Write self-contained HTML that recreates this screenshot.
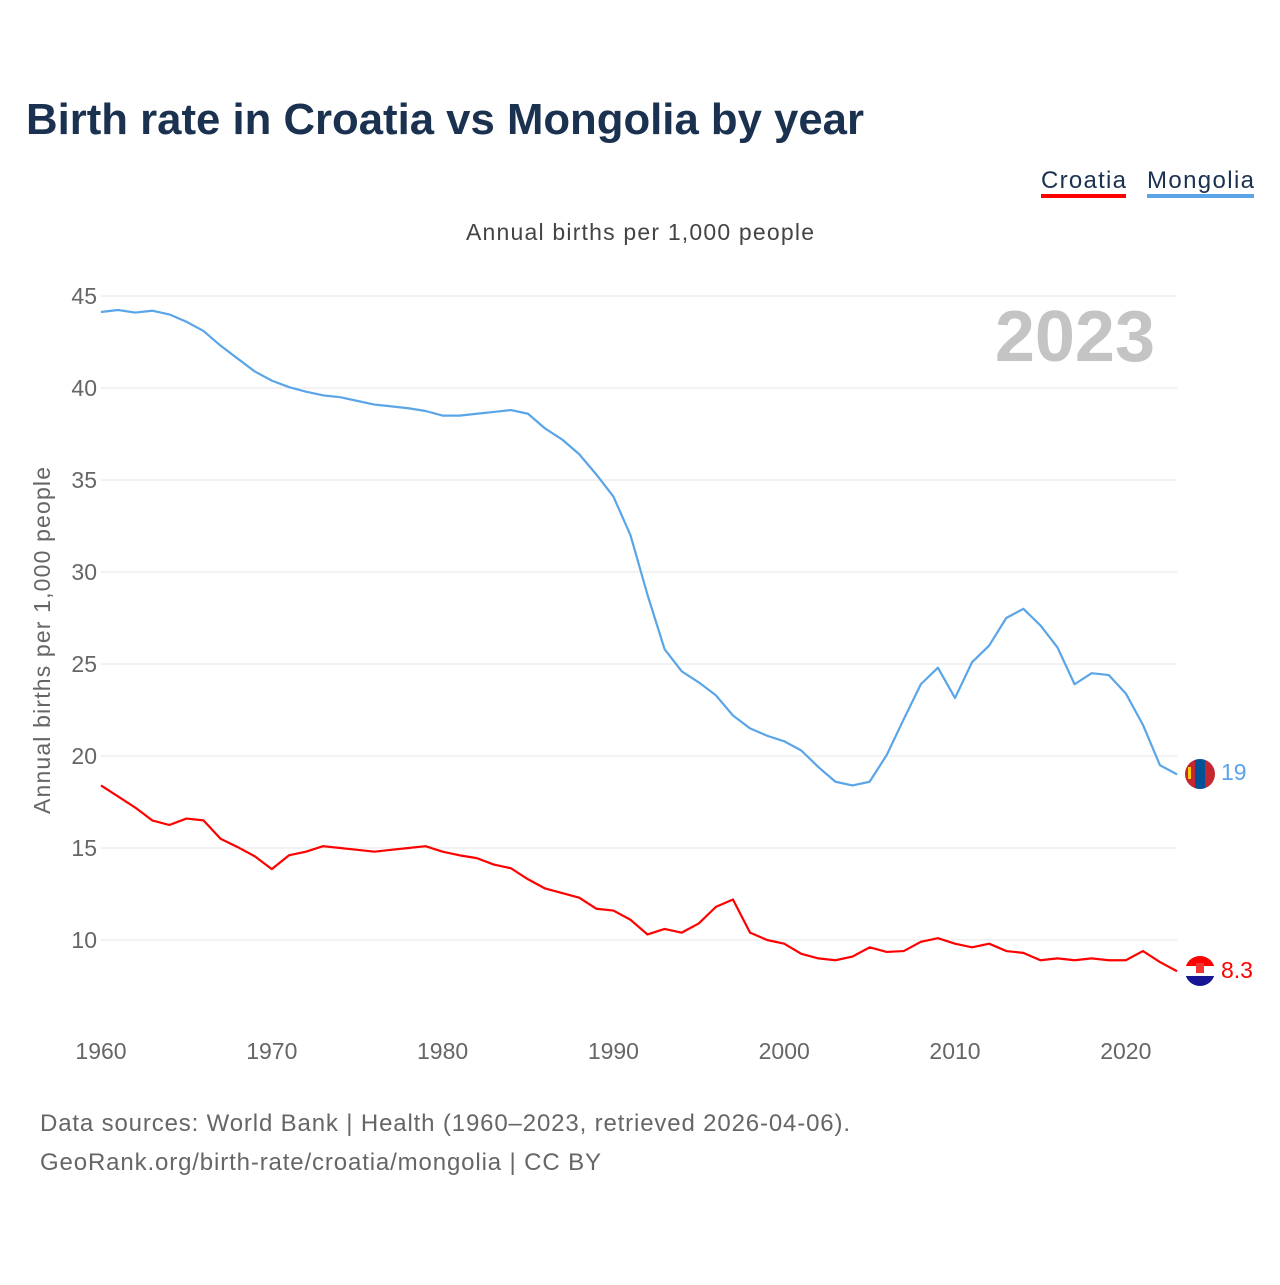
<!DOCTYPE html>
<html><head><meta charset="utf-8"><style>
body{margin:0;background:#fff;font-family:"Liberation Sans",sans-serif;}
svg text{font-family:"Liberation Sans",sans-serif;}
</style></head><body>
<svg width="1280" height="1280" viewBox="0 0 1280 1280">
<text x="26" y="134" font-size="44" font-weight="bold" fill="#1a3150" textLength="838" lengthAdjust="spacingAndGlyphs">Birth rate in Croatia vs Mongolia by year</text>
<g><text x="1041" y="188" font-size="24" fill="#1a3150" textLength="85">Croatia</text><rect x="1041" y="194" width="85" height="4" fill="#ff0000"/></g>
<g><text x="1147" y="188" font-size="24" fill="#1a3150" textLength="107">Mongolia</text><rect x="1147" y="194" width="107" height="4" fill="#5aa5e8"/></g>
<text x="466" y="240" font-size="23" fill="#444" textLength="348">Annual births per 1,000 people</text>
<text transform="translate(50,814) rotate(-90)" font-size="23" fill="#666" textLength="347">Annual births per 1,000 people</text>
<text x="1155" y="361" font-size="72" font-weight="bold" fill="#c4c4c4" text-anchor="end">2023</text>
<g id="grid"></g><g id="yt"></g><g id="xt"></g><g id="lines"></g>
<g><clipPath id="cm"><circle cx="1200" cy="774" r="15"/></clipPath><g clip-path="url(#cm)"><rect x="1185" y="759" width="10" height="30" fill="#c4272f"/><rect x="1195" y="759" width="10" height="30" fill="#015197"/><rect x="1205" y="759" width="10" height="30" fill="#c4272f"/><rect x="1188" y="767" width="3" height="12" fill="#f9cf02"/></g></g>
<g><clipPath id="cc"><circle cx="1200" cy="971" r="15"/></clipPath><g clip-path="url(#cc)"><rect x="1185" y="956" width="30" height="10" fill="#ff0000"/><rect x="1185" y="966" width="30" height="10" fill="#fff"/><rect x="1185" y="976" width="30" height="10" fill="#171796"/><rect x="1196" y="963" width="8" height="10" fill="#e33"/></g></g>
<text x="1221" y="780" font-size="23" fill="#5aa5e8">19</text>
<text x="1221" y="978" font-size="23" fill="#ff0000">8.3</text>
<text x="40" y="1131" font-size="24" fill="#666" textLength="810">Data sources: World Bank | Health (1960–2023, retrieved 2026-04-06).</text>
<text x="40" y="1170" font-size="24" fill="#666" textLength="561">GeoRank.org/birth-rate/croatia/mongolia | CC BY</text>
</svg>
<script>
const years=[];for(let y=1960;y<=2023;y++)years.push(y);
const mongolia=[44.13,44.24,44.1,44.2,44.0,43.6,43.1,42.3,41.6,40.9,40.4,40.05,39.8,39.6,39.5,39.3,39.1,39.0,38.9,38.75,38.5,38.5,38.6,38.7,38.8,38.6,37.8,37.2,36.4,35.3,34.1,32.0,28.75,25.8,24.6,24.0,23.3,22.2,21.5,21.1,20.8,20.3,19.4,18.6,18.4,18.6,20.05,22.0,23.9,24.8,23.15,25.1,26.0,27.5,28.0,27.1,25.9,23.9,24.5,24.4,23.4,21.7,19.5,19.0];
const croatia=[18.4,17.8,17.2,16.5,16.25,16.6,16.5,15.5,15.05,14.55,13.85,14.6,14.8,15.1,15.0,14.9,14.8,14.9,15.0,15.1,14.8,14.6,14.45,14.1,13.9,13.3,12.8,12.55,12.3,11.7,11.6,11.1,10.3,10.6,10.4,10.9,11.8,12.2,10.4,10.0,9.8,9.25,9.0,8.9,9.1,9.6,9.35,9.4,9.9,10.1,9.8,9.6,9.8,9.4,9.3,8.9,9.0,8.9,9.0,8.9,8.9,9.4,8.8,8.3];
const yTicks=[10,15,20,25,30,35,40,45];
const xTicks=[1960,1970,1980,1990,2000,2010,2020];
const X=y=>101+(y-1960)*17.08, Y=v=>296+(45-v)*18.4;
const NS="http://www.w3.org/2000/svg";
function mk(t,a,p){const e=document.createElementNS(NS,t);for(const k in a)e.setAttribute(k,a[k]);document.getElementById(p).appendChild(e);return e;}
yTicks.forEach(v=>{
 const l=mk('line',{x1:101,x2:1177,y1:Y(v),y2:Y(v),stroke:'#e6e6e6','stroke-width':1},'grid');
 
 
 const t=mk('text',{x:97,y:Y(v)+8,'font-size':23,fill:'#666','text-anchor':'end'},'yt');t.textContent=v;
 
 
});
xTicks.forEach(v=>{
 const t=mk('text',{x:X(v),y:1059,'font-size':23,fill:'#666','text-anchor':'middle'},'xt');t.textContent=v;
 
 
});
function line(d,c,n){
 const p=mk('polyline',{points:d.map((v,i)=>X(years[i])+','+Y(v)).join(' '),fill:'none',stroke:c,'stroke-width':2.2,'stroke-linejoin':'round'},'lines');
 
 
}
line(mongolia,'#5aa5e8','mongolia-line');
line(croatia,'#ff0000','croatia-line');
</script>
</body></html>
